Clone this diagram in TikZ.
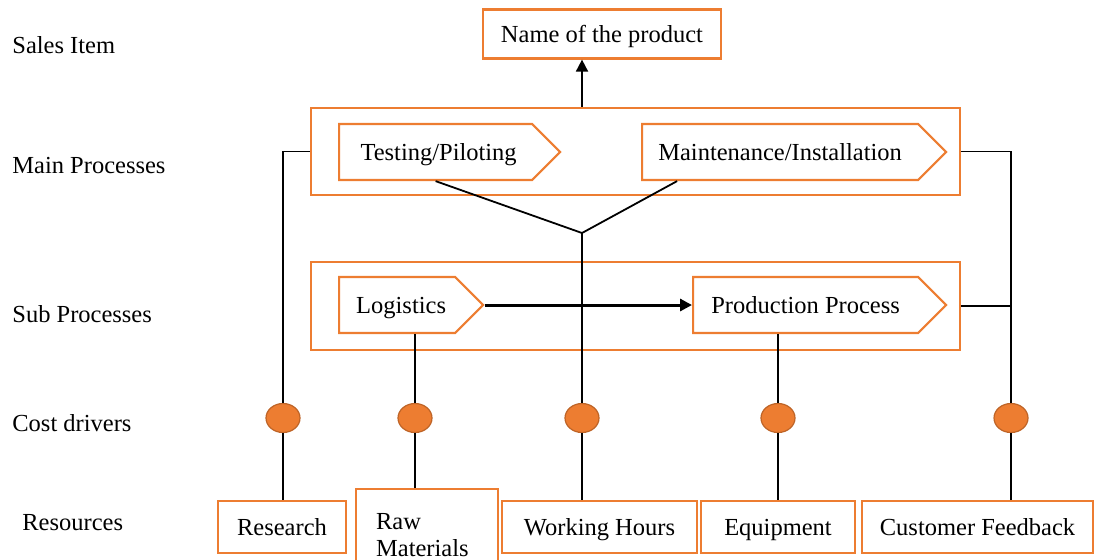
\documentclass[tikz,border=0pt]{standalone}
\usepackage{fontspec}
\setmainfont{Liberation Serif}
\usepackage{tikz}
\usetikzlibrary{shapes.geometric, shapes.symbols, arrows.meta, positioning}
\definecolor{accent}{HTML}{ED7D31}

\begin{document}
\begin{tikzpicture}[
    x=0.5pt, y=-0.5pt,
    font=\fontsize{12.25pt}{13.5pt}\selectfont,
    box/.style={
        rectangle,
        draw=accent,
        line width=1.1pt,
        fill=white,
        align=center,
        text height=10pt,
        text depth=2pt,
        inner sep=0pt
    },
    frame/.style={
        rectangle,
        draw=accent,
        line width=1.1pt,
        minimum width=324.5pt,
        minimum height=43.5pt
    },
    stage/.style={
        signal,
        signal to=east,
        signal pointer angle=90,
        draw=accent,
        line width=1.1pt,
        fill=white,
        minimum height=28pt,
        text height=10pt,
        text depth=2pt,
        inner sep=0pt,
        anchor=west
    },
    driver/.style={
        ellipse,
        draw=accent!80!black,
        fill=accent,
        line width=0.6pt,
        minimum width=17pt,
        minimum height=14.5pt,
        inner sep=0pt
    },
    link/.style={
        draw=black,
        line width=0.9pt
    },
    arrow/.style={
        link,
        -{Triangle[length=6pt,width=6pt]}
    },
    flow/.style={
        draw=black,
        line width=1.5pt,
        -{Triangle[length=6pt,width=6pt]}
    },
    level/.style={
        anchor=west,
        inner sep=0pt
    }
]
    \useasboundingbox (0,0) rectangle (1096,559);

    % Level names
    \node [level] (lsales) at (12,45) {Sales Item};
    \node [level] (lmain) at (12,165) {Main Processes};
    \node [level] (lsub) at (12,314) {Sub Processes};
    \node [level] (lcost) at (12,423) {Cost drivers};
    \node [level] (lres) at (22,523) {Resources};

    % Sales item
    \node [box, minimum width=119pt, minimum height=24.5pt] (product) at (602,34) {Name of the product};

    % Main processes
    \node [frame] (mainbox) at (635.5,151.5) {};
    \node [stage, minimum width=110.5pt] (testing) at (338,152) {\hspace{3pt}Testing/Piloting\hspace{9pt}};
    \node [stage, minimum width=152pt] (maint) at (641,152) {Maintenance/Installation\hspace{6pt}};

    % Sub processes
    \node [frame, minimum height=44pt] (subbox) at (635.5,306) {};
    \node [stage, minimum width=72pt] (logistics) at (338,305) {\hspace{4pt}Logistics\hspace{4pt}};
    \node [stage, minimum width=126.5pt] (production) at (692,305) {Production Process\hspace{6pt}};

    % Cost drivers
    \node [driver] (dres) at (283,418) {};
    \node [driver] (draw) at (415,418) {};
    \node [driver] (dwork) at (582,418) {};
    \node [driver] (dequip) at (778,418) {};
    \node [driver] (dcust) at (1011,418) {};

    % Resources
    \node [box, minimum width=64pt, minimum height=26pt] (research) at (282,527) {Research};
    \node [box, anchor=north west, minimum height=46pt, text width=51pt, inner xsep=10pt, align=left, text height=, text depth=] (rawmat) at (355,488) {Raw\\Materials};
    \node [box, minimum width=97.5pt, minimum height=26pt] (hours) at (599.5,527) {Working Hours};
    \node [box, minimum width=77pt, minimum height=26pt] (equip) at (778,527) {Equipment};
    \node [box, minimum width=115.5pt, minimum height=26pt] (feedback) at (977.5,527) {Customer Feedback};

    % Connections
    \coordinate (join) at (582,233);
    \draw [arrow] (mainbox.north -| join) -- (join |- product.south);
    \draw [link] (testing.south) -- (join) -- ([xshift=-51.5pt]maint.south);
    \draw [flow] (logistics.east) -- (production.west);

    \draw [link] (research.north -| dres) -- (dres);
    \draw [link] (dres) |- (mainbox.west);
    \draw [link] (rawmat.north -| draw) -- (draw) -- (draw |- logistics.south);
    \draw [link] (hours.north -| dwork) -- (dwork) -- (join);
    \draw [link] (equip) -- (dequip) -- (dequip |- production.south);
    \draw [link] (feedback.north -| dcust) -- (dcust) -- (dcust |- mainbox.east) -- (mainbox.east);
    \draw [link] (subbox.east) -- (dcust |- subbox.east);

\end{tikzpicture}
\end{document}
